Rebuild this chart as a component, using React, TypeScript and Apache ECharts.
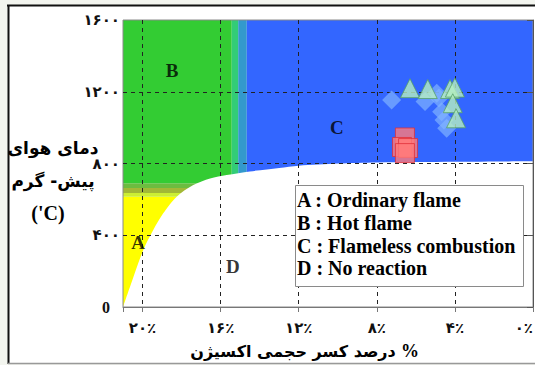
import React, { useEffect, useRef } from 'react';
import * as echarts from 'echarts';

// Axis ticks
const xTickValues = [0, 4, 8, 12, 16, 20];
const xTickLabels = ['۰٪', '۴٪', '۸٪', '۱۲٪', '۱۶٪', '۲۰٪'];
const yTickValues = [0, 400, 800, 1200, 1600];
const yTickLabels = ['0', '۴۰۰', '۸۰۰', '۱۲۰۰', '۱۶۰۰'];

// Boundary of the "no reaction" region (oxygen %, preheat temperature)
const boundaryO2 = [21, 20.64, 19.96, 19.45, 18.94, 18.25, 17.4, 16.54, 15.69, 14.5, 13, 12, 10, 8, 4, 0];
const boundaryT = [0, 113, 318, 429, 522, 615, 680, 717, 736, 756, 775, 788, 800, 806, 810, 812];

// Coloured regime bands
const bandO2From = [21, 21, 21, 21, 21, 15.43, 15.1, 14.66];
const bandO2To = [15.43, 15.43, 15.43, 15.43, 15.43, 15.1, 14.66, 0];
const bandTFrom = [0, 615, 636, 663, 690, 0, 0, 0];
const bandTTo = [615, 636, 663, 690, 1600, 1600, 1600, 1600];
const bandColors = ['#ffff00', '#ccee33', '#a2b836', '#6cbc40', '#33cc33', '#33cc77', '#3399cc', '#3366ff'];

// Measured points
const diamondO2 = [7.24, 5.53, 4.93, 4.82, 4.68, 4.56, 4.42];
const diamondT = [1154, 1145, 1191, 1165, 1089, 1043, 996];
const triangleO2 = [6.3, 5.39, 4.25, 4.0, 4.11, 3.94];
const triangleT = [1220, 1215, 1215, 1223, 1136, 1052];
const squareO2 = [6.56, 6.71, 6.4, 6.56];
const squareT = [945, 892, 886, 858];

// Region labels
const regionNames = ['A', 'B', 'C', 'D'];
const regionO2 = [20.23, 18.49, 10.04, 15.37];
const regionT = [357, 1321, 1003, 223];

const legendLines = ['A : Ordinary flame', 'B : Hot flame', 'C : Flameless combustion', 'D : No reaction'];
const yNameLines = ['دمای هوای', 'پیش- گرم', "('C)"];
const xNameText = 'درصد کسر حجمی اکسیژن';
const xNameUnit = '%';

const SERIF = "'Liberation Serif', 'Times New Roman', 'DejaVu Sans', serif";
const ARABIC = "'DejaVu Sans', 'Noto Sans', sans-serif";

export default function App() {
  const ref = useRef<HTMLDivElement>(null);
  useEffect(() => {
    if (!ref.current) return;
    const chart = echarts.init(ref.current, null, { renderer: 'svg' });
    const pairs = (xs: number[], ys: number[]) => xs.map((x, i) => [x, ys[i]]);
    const markAreaData = bandColors.map((c, i) => [
      { xAxis: bandO2From[i], yAxis: bandTFrom[i], itemStyle: { color: c } },
      { xAxis: bandO2To[i], yAxis: bandTTo[i] },
    ]);
    const option: any = {
      animation: false,
      backgroundColor: '#f3f5ef',
      grid: {
        left: 123, top: 20, right: 2, bottom: 58, outerBoundsMode: 'none', containLabel: false,
        show: true, borderColor: '#8a8a8a', borderWidth: 1, backgroundColor: 'transparent', z: 3,
      },
      xAxis: {
        type: 'value', min: 0, max: 21, interval: 4, inverse: true, z: 3,
        axisLine: { lineStyle: { color: '#777', width: 1 } },
        axisTick: { show: true, length: 5, lineStyle: { color: '#777' } },
        axisLabel: {
          margin: 13, fontSize: 15, fontWeight: 'bold', color: '#111', fontFamily: ARABIC,
          alignMinLabel: 'right',
          formatter: (v: number) => {
            const i = xTickValues.indexOf(v);
            return i >= 0 ? xTickLabels[i] : '';
          },
        },
        splitLine: { show: true, showMinLine: false, showMaxLine: false, lineStyle: { color: '#222', type: [4, 4], width: 1 } },
      },
      yAxis: {
        type: 'value', min: 0, max: 1600, interval: 400, z: 3,
        axisLine: { show: true, lineStyle: { color: '#555', width: 1 } },
        axisTick: { show: true, length: 6, lineStyle: { color: '#555' } },
        axisLabel: {
          margin: 3, fontSize: 15, fontWeight: 'bold', color: '#111', fontFamily: ARABIC,
          formatter: (v: number) => {
            const i = yTickValues.indexOf(v);
            if (i < 0) return '';
            return v === 0 ? `{z|${yTickLabels[i]}}` : yTickLabels[i];
          },
          rich: {
            z: { fontFamily: SERIF, fontWeight: 'bold', fontSize: 16, color: '#111', padding: [0, 10, 0, 0] },
          },
        },
        splitLine: { show: true, showMinLine: false, showMaxLine: false, lineStyle: { color: '#222', type: [4, 4], width: 1 } },
      },
      series: [
        {
          type: 'line', z: 1, data: [], silent: true,
          markArea: { silent: true, data: markAreaData },
        },
        {
          type: 'line', z: 2, silent: true, symbol: 'none', smooth: 0.3,
          data: pairs(boundaryO2, boundaryT),
          lineStyle: { width: 0, color: '#fff' },
          areaStyle: { color: '#ffffff', opacity: 1, origin: 'start' },
        },
        {
          type: 'scatter', z: 4, symbol: 'diamond', symbolSize: 19,
          data: pairs(diamondO2, diamondT),
          itemStyle: { color: 'rgba(130,180,255,0.85)' },
        },
        {
          type: 'scatter', z: 5, symbol: 'triangle', symbolSize: 19,
          data: pairs(triangleO2, triangleT),
          itemStyle: { color: '#b6f0c2', borderColor: '#56a066', borderWidth: 1 },
        },
        {
          type: 'scatter', z: 5, symbol: 'rect', symbolSize: 19,
          data: pairs(squareO2, squareT),
          itemStyle: { color: '#ff7b7b', borderColor: '#e0303a', borderWidth: 1 },
        },
        {
          type: 'scatter', z: 6, symbolSize: 0, silent: true,
          data: regionNames.map((n, i) => ({ name: n, value: [regionO2[i], regionT[i]] })),
          label: {
            show: true, position: 'inside', formatter: '{b}',
            fontFamily: SERIF, fontWeight: 'bold', fontSize: 19, color: '#000',
          },
        },
      ],
      graphic: [
        { type: 'rect', z: -10, silent: true, shape: { x: 8, y: 5, width: 540, height: 358 }, style: { fill: '#ffffff' } },
        { type: 'line', z: -9, silent: true, shape: { x1: 7, y1: 5.5, x2: 540, y2: 5.5 }, style: { stroke: '#111', lineWidth: 2 } },
        { type: 'line', z: -9, silent: true, shape: { x1: 8.5, y1: 5, x2: 8.5, y2: 364 }, style: { stroke: '#111', lineWidth: 2 } },
        { type: 'line', z: -9, silent: true, shape: { x1: 8, y1: 363.5, x2: 540, y2: 363.5 }, style: { stroke: '#999', lineWidth: 1.5 } },
        {
          type: 'rect', z: 20, shape: { x: 295.5, y: 185.5, width: 228, height: 101 },
          style: { fill: '#ffffff', stroke: '#8a8a8a', lineWidth: 1 },
        },
        ...legendLines.map((t, i) => ({
          type: 'text', z: 21, x: 297, y: 200 + i * 22.8,
          style: { text: t, font: `bold 20px ${SERIF}`, fill: '#000', verticalAlign: 'middle', textAlign: 'left' },
        })),
        ...yNameLines.map((t, i) => ({
          type: 'text', z: 21, x: i === 2 ? 48 : 53, y: [148, 181, 213][i],
          style: {
            text: t, font: i === 2 ? `bold 20px ${SERIF}` : `bold 17px ${ARABIC}`,
            fill: '#000', verticalAlign: 'middle', textAlign: 'center',
          },
        })),
        {
          type: 'text', z: 21, x: 293, y: 351,
          style: { text: xNameText, font: `bold 16px ${ARABIC}`, fill: '#000', verticalAlign: 'middle', textAlign: 'center' },
        },
        {
          type: 'text', z: 21, x: 410, y: 351,
          style: { text: xNameUnit, font: `bold 18px ${SERIF}`, fill: '#000', verticalAlign: 'middle', textAlign: 'center' },
        },
      ],
    };
    chart.setOption(option);
    return () => chart.dispose();
  }, []);
  return <div ref={ref} style={{ position: 'absolute', left: 0, top: 0, width: 535, height: 365 }} />;
}
